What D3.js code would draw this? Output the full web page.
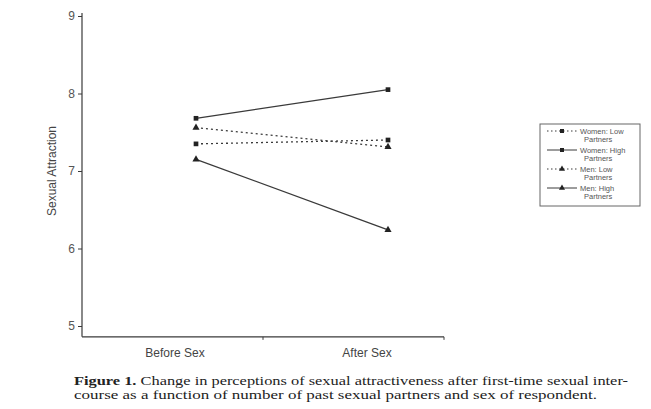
<!DOCTYPE html>
<html><head><meta charset="utf-8">
<script src="https://cdn.jsdelivr.net/npm/d3@7"></script>
<style>body{margin:0;background:#fff;}svg{display:block;}</style>
</head><body>
<svg id="c" width="651" height="409"></svg>
<script>
const categories = ["Before Sex", "After Sex"];
const yTicks = [5, 6, 7, 8, 9];
const womenLow = [7.35, 7.40];
const womenHigh = [7.68, 8.05];
const menLow = [7.56, 7.31];
const menHigh = [7.15, 6.24];
const seriesNames = ["Women: Low Partners", "Women: High Partners", "Men: Low Partners", "Men: High Partners"];
const legendLines = [["Women: Low", "Partners"], ["Women: High", "Partners"], ["Men: Low", "Partners"], ["Men: High", "Partners"]];

const series = [
  {name: seriesNames[0], values: womenLow, dash: "2,3", sym: d3.symbolSquare},
  {name: seriesNames[1], values: womenHigh, dash: null, sym: d3.symbolSquare},
  {name: seriesNames[2], values: menLow, dash: "2,3", sym: d3.symbolTriangle},
  {name: seriesNames[3], values: menHigh, dash: null, sym: d3.symbolTriangle}
];

const svg = d3.select("#c");
const ink = "#3a3a3a";
const x0 = 82, x1 = 444, yTop = 16, yBot = 326;
const y = d3.scaleLinear().domain([5, 9]).range([yBot, yTop]);
const x = d3.scalePoint().domain(categories).range([196, 388]);
const xAxisY = y(4.86);

// y axis
const ya = svg.append("g").attr("transform", `translate(${x0},0)`)
  .call(d3.axisLeft(y).tickValues(yTicks).tickFormat(d3.format("d")).tickSize(4).tickPadding(3));
ya.select(".domain").remove();
ya.append("line").attr("x1", 0).attr("x2", 0).attr("y1", yTop - 3).attr("y2", xAxisY).attr("stroke", ink).attr("stroke-width", 1.2);
ya.selectAll(".tick line").attr("stroke", ink);
ya.selectAll(".tick text").attr("fill", "#555").attr("font-family", "Liberation Sans, Arial, sans-serif").attr("font-size", 12);

// x axis
svg.append("line").attr("x1", x0).attr("x2", x1).attr("y1", xAxisY).attr("y2", xAxisY).attr("stroke", ink).attr("stroke-width", 1.2);
svg.append("line").attr("x1", (x0 + x1) / 2).attr("x2", (x0 + x1) / 2).attr("y1", xAxisY).attr("y2", xAxisY + 3).attr("stroke", ink);
svg.append("line").attr("x1", x1).attr("x2", x1).attr("y1", xAxisY).attr("y2", xAxisY + 3).attr("stroke", ink);
svg.selectAll(".xl").data(categories).enter().append("text")
  .attr("x", d => x(d) - 21).attr("y", xAxisY + 20)
  .attr("text-anchor", "middle").attr("fill", "#444")
  .attr("font-family", "Liberation Sans, Arial, sans-serif").attr("font-size", 12)
  .text(d => d);

// y label
svg.append("text").attr("transform", `translate(56,171) rotate(-90)`)
  .attr("text-anchor", "middle").attr("fill", "#444")
  .attr("font-family", "Liberation Sans, Arial, sans-serif").attr("font-size", 12)
  .text("Sexual Attraction");

// series
const line = d3.line().x((d, i) => x(categories[i])).y(d => y(d));
series.forEach(s => {
  svg.append("path").attr("d", line(s.values)).attr("fill", "none")
    .attr("stroke", ink).attr("stroke-width", 1.3)
    .attr("stroke-dasharray", s.dash);
  svg.selectAll(null).data(s.values).enter().append("path")
    .attr("d", d3.symbol().type(s.sym).size(22))
    .attr("transform", (d, i) => `translate(${x(categories[i])},${y(d)})`)
    .attr("fill", "#222");
});

// legend
const lg = svg.append("g");
lg.append("rect").attr("x", 540).attr("y", 124).attr("width", 100).attr("height", 82)
  .attr("fill", "none").attr("stroke", "#666").attr("stroke-width", 1);
series.forEach((s, i) => {
  const ly = 131 + i * 19;
  lg.append("line").attr("x1", 547).attr("x2", 577).attr("y1", ly).attr("y2", ly)
    .attr("stroke", ink).attr("stroke-width", 1).attr("stroke-dasharray", s.dash ? "1.5,2.5" : null);
  lg.append("path").attr("d", d3.symbol().type(s.sym).size(16))
    .attr("transform", `translate(562,${ly})`).attr("fill", "#222");
  legendLines[i].forEach((t, j) => {
    lg.append("text").attr("x", j === 0 ? 580 : 584).attr("y", ly + 2.5 + j * 8)
      .attr("font-family", "Liberation Sans, Arial, sans-serif").attr("font-size", 7.5)
      .attr("fill", "#555").text(t);
  });
});

// caption
const cap = svg.append("g").attr("font-family", "Liberation Serif, Times New Roman, serif").attr("font-size", 13.5).attr("fill", "#222");
const t1 = cap.append("text").attr("x", 74).attr("y", 385).attr("textLength", 554).attr("lengthAdjust", "spacingAndGlyphs");
t1.append("tspan").attr("font-weight", "bold").text("Figure 1.");
t1.append("tspan").text(" Change in perceptions of sexual attractiveness after first-time sexual inter-");
cap.append("text").attr("x", 74).attr("y", 399).attr("textLength", 523).attr("lengthAdjust", "spacingAndGlyphs")
  .text("course as a function of number of past sexual partners and sex of respondent.");
</script>
</body></html>
